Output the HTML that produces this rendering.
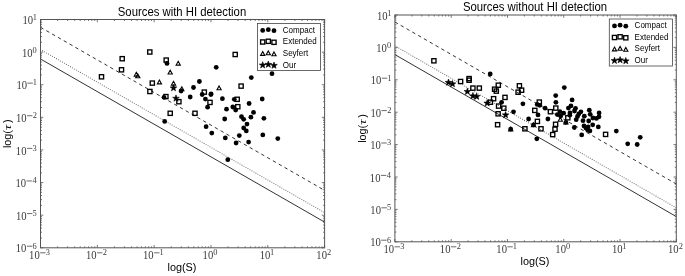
<!DOCTYPE html>
<html><head><meta charset="utf-8"><style>
html,body{margin:0;padding:0;background:#fff;width:685px;height:276px;overflow:hidden}
svg{display:block;will-change:transform}
</style></head><body>
<svg width="685" height="276" viewBox="0 0 685 276">
<style>
.tl{font-family:"Liberation Serif",serif;font-size:13px;fill:#3a3a3a}
.sup{font-family:"Liberation Serif",serif;font-size:8.4px;fill:#3a3a3a}
.lg{font-family:"Liberation Sans",sans-serif;font-size:8.5px;fill:#000}
.tt{font-family:"Liberation Sans",sans-serif;font-size:12px;fill:#000}
.al{font-family:"Liberation Sans",sans-serif;font-size:11.5px;fill:#000}
</style>
<rect width="685" height="276" fill="#fff"/>
<clipPath id="c40"><rect x="40.5" y="19.5" width="284.1" height="228.3"/></clipPath>
<g clip-path="url(#c40)" fill="none" stroke="#000">
<line x1="40.5" y1="59.0" x2="324.6" y2="222.07" stroke-width="1" stroke="#333"/>
<line x1="40.5" y1="49.5" x2="324.6" y2="212.57" stroke-width="1.1" stroke-dasharray="0 2.3" stroke-linecap="round" stroke="#666"/>
<line x1="40.5" y1="27.3" x2="324.6" y2="190.37" stroke-width="1" stroke-dasharray="3.4 3.3" stroke="#333"/>
</g>
<g fill="none" stroke="#000" stroke-width="1.35"><rect x="99.40" y="74.70" width="4.2" height="4.2"/><rect x="120.10" y="56.60" width="4.2" height="4.2"/><rect x="119.40" y="67.70" width="4.2" height="4.2"/><rect x="147.70" y="49.90" width="4.2" height="4.2"/><rect x="150.20" y="81.00" width="4.2" height="4.2"/><rect x="147.80" y="89.40" width="4.2" height="4.2"/><rect x="164.10" y="58.00" width="4.2" height="4.2"/><rect x="163.80" y="94.50" width="4.2" height="4.2"/><rect x="176.80" y="99.60" width="4.2" height="4.2"/><rect x="168.10" y="111.20" width="4.2" height="4.2"/><rect x="192.90" y="111.20" width="4.2" height="4.2"/><rect x="233.10" y="52.40" width="4.2" height="4.2"/><rect x="239.00" y="84.00" width="4.2" height="4.2"/><rect x="202.20" y="90.00" width="4.2" height="4.2"/><rect x="207.90" y="100.30" width="4.2" height="4.2"/><rect x="235.10" y="97.20" width="4.2" height="4.2"/><rect x="235.70" y="104.60" width="4.2" height="4.2"/></g>
<g fill="none" stroke="#000" stroke-width="1.1" stroke-linejoin="miter"><path d="M136.30,72.30L138.40,76.10L134.20,76.10Z"/><path d="M137.80,73.90L139.90,77.70L135.70,77.70Z"/><path d="M159.40,80.10L161.50,83.90L157.30,83.90Z"/><path d="M178.20,61.30L180.30,65.10L176.10,65.10Z"/><path d="M170.20,70.20L172.30,74.00L168.10,74.00Z"/><path d="M173.50,81.30L175.60,85.10L171.40,85.10Z"/><path d="M181.80,86.80L183.90,90.60L179.70,90.60Z"/><path d="M219.10,86.00L221.20,89.80L217.00,89.80Z"/></g>
<g fill="#000"><circle cx="167" cy="63.4" r="2.4"/><circle cx="216.2" cy="67.3" r="2.4"/><circle cx="181.1" cy="91" r="2.4"/><circle cx="193.5" cy="87.5" r="2.4"/><circle cx="199.4" cy="81.5" r="2.4"/><circle cx="202.2" cy="94.5" r="2.4"/><circle cx="210.9" cy="94.5" r="2.4"/><circle cx="205.4" cy="99.1" r="2.4"/><circle cx="164" cy="97.3" r="2.4"/><circle cx="190.2" cy="97" r="2.4"/><circle cx="164.7" cy="121.4" r="2.4"/><circle cx="222.4" cy="98.7" r="2.4"/><circle cx="207.6" cy="107.2" r="2.4"/><circle cx="226.5" cy="109.2" r="2.4"/><circle cx="224.7" cy="119" r="2.4"/><circle cx="206.1" cy="126.7" r="2.4"/><circle cx="211.8" cy="133.1" r="2.4"/><circle cx="225.3" cy="137.9" r="2.4"/><circle cx="272" cy="73.7" r="2.4"/><circle cx="251.3" cy="77.6" r="2.4"/><circle cx="211.1" cy="93.9" r="2.4"/><circle cx="234.3" cy="99.3" r="2.4"/><circle cx="262.2" cy="99" r="2.4"/><circle cx="249.1" cy="103.5" r="2.4"/><circle cx="232.8" cy="107" r="2.4"/><circle cx="235.7" cy="110" r="2.4"/><circle cx="253.5" cy="112.4" r="2.4"/><circle cx="250.9" cy="117.2" r="2.4"/><circle cx="241.5" cy="116.7" r="2.4"/><circle cx="243.7" cy="119.3" r="2.4"/><circle cx="263.9" cy="118.3" r="2.4"/><circle cx="247" cy="124.1" r="2.4"/><circle cx="243.7" cy="128" r="2.4"/><circle cx="246.3" cy="130.9" r="2.4"/><circle cx="239.3" cy="135.6" r="2.4"/><circle cx="262.8" cy="134.9" r="2.4"/><circle cx="277.8" cy="138.6" r="2.4"/><circle cx="236.1" cy="143" r="2.4"/><circle cx="248.6" cy="142.1" r="2.4"/><circle cx="227.8" cy="159.7" r="2.4"/></g>
<g fill="#000" stroke="#000" stroke-width="0.6" stroke-linejoin="round"><polygon points="173.50,84.50 174.32,86.87 176.83,86.92 174.83,88.43 175.56,90.83 173.50,89.40 171.44,90.83 172.17,88.43 170.17,86.92 172.68,86.87"/><polygon points="176.00,94.90 176.82,97.27 179.33,97.32 177.33,98.83 178.06,101.23 176.00,99.80 173.94,101.23 174.67,98.83 172.67,97.32 175.18,97.27"/></g>
<rect x="257.5" y="23.5" width="63.0" height="47.0" fill="#fff" stroke="#444" stroke-width="0.8"/>
<g fill="#000"><circle cx="262.7" cy="30.400000000000002" r="2.4"/><circle cx="268.3" cy="29.700000000000003" r="2.4"/><circle cx="274.0" cy="30.700000000000003" r="2.4"/></g>
<text transform="translate(282.8,32.7) scale(0.945,1)" class="lg">Compact</text>
<g fill="none" stroke="#000" stroke-width="1.35"><rect x="260.60" y="39.90" width="4.2" height="4.2"/><rect x="266.20" y="39.20" width="4.2" height="4.2"/><rect x="271.90" y="40.20" width="4.2" height="4.2"/></g>
<text transform="translate(282.8,44.300000000000004) scale(0.945,1)" class="lg">Extended</text>
<g fill="none" stroke="#000" stroke-width="1.1"><path d="M262.70,51.60L264.80,55.40L260.60,55.40Z"/><path d="M268.30,50.90L270.40,54.70L266.20,54.70Z"/><path d="M274.00,51.90L276.10,55.70L271.90,55.70Z"/></g>
<text transform="translate(282.8,55.9) scale(0.945,1)" class="lg">Seyfert</text>
<g fill="#000" stroke="#000" stroke-width="0.6" stroke-linejoin="round"><polygon points="262.70,61.70 263.52,64.07 266.03,64.12 264.03,65.63 264.76,68.03 262.70,66.60 260.64,68.03 261.37,65.63 259.37,64.12 261.88,64.07"/><polygon points="268.30,61.00 269.12,63.37 271.63,63.42 269.63,64.93 270.36,67.33 268.30,65.90 266.24,67.33 266.97,64.93 264.97,63.42 267.48,63.37"/><polygon points="274.00,62.00 274.82,64.37 277.33,64.42 275.33,65.93 276.06,68.33 274.00,66.90 271.94,68.33 272.67,65.93 270.67,64.42 273.18,64.37"/></g>
<text transform="translate(282.8,67.5) scale(0.945,1)" class="lg">Our</text>
<rect x="40.5" y="19.5" width="284.1" height="228.3" fill="none" stroke="#555" stroke-width="1"/>
<path d="M40.50,247.8v-2.8M40.50,19.5v2.8M57.60,247.8v-1.5M57.60,19.5v1.5M67.61,247.8v-1.5M67.61,19.5v1.5M74.71,247.8v-1.5M74.71,19.5v1.5M80.22,247.8v-1.5M80.22,19.5v1.5M84.71,247.8v-1.5M84.71,19.5v1.5M88.52,247.8v-1.5M88.52,19.5v1.5M91.81,247.8v-1.5M91.81,19.5v1.5M94.72,247.8v-1.5M94.72,19.5v1.5M97.32,247.8v-2.8M97.32,19.5v2.8M114.42,247.8v-1.5M114.42,19.5v1.5M124.43,247.8v-1.5M124.43,19.5v1.5M131.53,247.8v-1.5M131.53,19.5v1.5M137.04,247.8v-1.5M137.04,19.5v1.5M141.53,247.8v-1.5M141.53,19.5v1.5M145.34,247.8v-1.5M145.34,19.5v1.5M148.63,247.8v-1.5M148.63,19.5v1.5M151.54,247.8v-1.5M151.54,19.5v1.5M154.14,247.8v-2.8M154.14,19.5v2.8M171.24,247.8v-1.5M171.24,19.5v1.5M181.25,247.8v-1.5M181.25,19.5v1.5M188.35,247.8v-1.5M188.35,19.5v1.5M193.86,247.8v-1.5M193.86,19.5v1.5M198.35,247.8v-1.5M198.35,19.5v1.5M202.16,247.8v-1.5M202.16,19.5v1.5M205.45,247.8v-1.5M205.45,19.5v1.5M208.36,247.8v-1.5M208.36,19.5v1.5M210.96,247.8v-2.8M210.96,19.5v2.8M228.06,247.8v-1.5M228.06,19.5v1.5M238.07,247.8v-1.5M238.07,19.5v1.5M245.17,247.8v-1.5M245.17,19.5v1.5M250.68,247.8v-1.5M250.68,19.5v1.5M255.17,247.8v-1.5M255.17,19.5v1.5M258.98,247.8v-1.5M258.98,19.5v1.5M262.27,247.8v-1.5M262.27,19.5v1.5M265.18,247.8v-1.5M265.18,19.5v1.5M267.78,247.8v-2.8M267.78,19.5v2.8M284.88,247.8v-1.5M284.88,19.5v1.5M294.89,247.8v-1.5M294.89,19.5v1.5M301.99,247.8v-1.5M301.99,19.5v1.5M307.50,247.8v-1.5M307.50,19.5v1.5M311.99,247.8v-1.5M311.99,19.5v1.5M315.80,247.8v-1.5M315.80,19.5v1.5M319.09,247.8v-1.5M319.09,19.5v1.5M322.00,247.8v-1.5M322.00,19.5v1.5M324.60,247.8v-2.8M324.60,19.5v2.8M40.5,247.80h2.8M324.6,247.80h-2.8M40.5,237.98h1.5M324.6,237.98h-1.5M40.5,232.24h1.5M324.6,232.24h-1.5M40.5,228.16h1.5M324.6,228.16h-1.5M40.5,225.00h1.5M324.6,225.00h-1.5M40.5,222.42h1.5M324.6,222.42h-1.5M40.5,220.24h1.5M324.6,220.24h-1.5M40.5,218.35h1.5M324.6,218.35h-1.5M40.5,216.68h1.5M324.6,216.68h-1.5M40.5,215.19h2.8M324.6,215.19h-2.8M40.5,205.37h1.5M324.6,205.37h-1.5M40.5,199.62h1.5M324.6,199.62h-1.5M40.5,195.55h1.5M324.6,195.55h-1.5M40.5,192.39h1.5M324.6,192.39h-1.5M40.5,189.81h1.5M324.6,189.81h-1.5M40.5,187.62h1.5M324.6,187.62h-1.5M40.5,185.73h1.5M324.6,185.73h-1.5M40.5,184.06h1.5M324.6,184.06h-1.5M40.5,182.57h2.8M324.6,182.57h-2.8M40.5,172.75h1.5M324.6,172.75h-1.5M40.5,167.01h1.5M324.6,167.01h-1.5M40.5,162.94h1.5M324.6,162.94h-1.5M40.5,159.78h1.5M324.6,159.78h-1.5M40.5,157.19h1.5M324.6,157.19h-1.5M40.5,155.01h1.5M324.6,155.01h-1.5M40.5,153.12h1.5M324.6,153.12h-1.5M40.5,151.45h1.5M324.6,151.45h-1.5M40.5,149.96h2.8M324.6,149.96h-2.8M40.5,140.14h1.5M324.6,140.14h-1.5M40.5,134.40h1.5M324.6,134.40h-1.5M40.5,130.32h1.5M324.6,130.32h-1.5M40.5,127.16h1.5M324.6,127.16h-1.5M40.5,124.58h1.5M324.6,124.58h-1.5M40.5,122.39h1.5M324.6,122.39h-1.5M40.5,120.50h1.5M324.6,120.50h-1.5M40.5,118.84h1.5M324.6,118.84h-1.5M40.5,117.34h2.8M324.6,117.34h-2.8M40.5,107.52h1.5M324.6,107.52h-1.5M40.5,101.78h1.5M324.6,101.78h-1.5M40.5,97.71h1.5M324.6,97.71h-1.5M40.5,94.55h1.5M324.6,94.55h-1.5M40.5,91.96h1.5M324.6,91.96h-1.5M40.5,89.78h1.5M324.6,89.78h-1.5M40.5,87.89h1.5M324.6,87.89h-1.5M40.5,86.22h1.5M324.6,86.22h-1.5M40.5,84.73h2.8M324.6,84.73h-2.8M40.5,74.91h1.5M324.6,74.91h-1.5M40.5,69.17h1.5M324.6,69.17h-1.5M40.5,65.09h1.5M324.6,65.09h-1.5M40.5,61.93h1.5M324.6,61.93h-1.5M40.5,59.35h1.5M324.6,59.35h-1.5M40.5,57.17h1.5M324.6,57.17h-1.5M40.5,55.27h1.5M324.6,55.27h-1.5M40.5,53.61h1.5M324.6,53.61h-1.5M40.5,52.11h2.8M324.6,52.11h-2.8M40.5,42.30h1.5M324.6,42.30h-1.5M40.5,36.55h1.5M324.6,36.55h-1.5M40.5,32.48h1.5M324.6,32.48h-1.5M40.5,29.32h1.5M324.6,29.32h-1.5M40.5,26.74h1.5M324.6,26.74h-1.5M40.5,24.55h1.5M324.6,24.55h-1.5M40.5,22.66h1.5M324.6,22.66h-1.5M40.5,20.99h1.5M324.6,20.99h-1.5M40.5,19.50h2.8M324.6,19.50h-2.8" stroke="#555" stroke-width="0.8" fill="none"/>
<g transform="translate(30.06,259.00)"><text transform="translate(-0.94,0) scale(0.82,1)" class="tl">10</text><line x1="10.12" y1="-6.20" x2="15.52" y2="-6.20" stroke="#3a3a3a" stroke-width="0.75"/><text x="15.81" y="-3.90" class="sup">3</text></g>
<g transform="translate(86.93,259.00)"><text transform="translate(-0.94,0) scale(0.82,1)" class="tl">10</text><line x1="10.12" y1="-6.20" x2="15.52" y2="-6.20" stroke="#3a3a3a" stroke-width="0.75"/><text x="15.85" y="-3.90" class="sup">2</text></g>
<g transform="translate(143.95,259.00)"><text transform="translate(-0.94,0) scale(0.82,1)" class="tl">10</text><line x1="10.12" y1="-6.20" x2="15.52" y2="-6.20" stroke="#3a3a3a" stroke-width="0.75"/><text x="15.48" y="-3.90" class="sup">1</text></g>
<g transform="translate(203.52,259.00)"><text transform="translate(-0.94,0) scale(0.82,1)" class="tl">10</text><text x="9.80" y="-3.90" class="sup">0</text></g>
<g transform="translate(260.64,259.00)"><text transform="translate(-0.94,0) scale(0.82,1)" class="tl">10</text><text x="9.38" y="-3.90" class="sup">1</text></g>
<g transform="translate(317.26,259.00)"><text transform="translate(-0.94,0) scale(0.82,1)" class="tl">10</text><text x="9.75" y="-3.90" class="sup">2</text></g>
<g transform="translate(16.69,252.40)"><text transform="translate(-0.94,0) scale(0.82,1)" class="tl">10</text><line x1="10.12" y1="-6.20" x2="15.52" y2="-6.20" stroke="#3a3a3a" stroke-width="0.75"/><text x="15.86" y="-3.90" class="sup">6</text></g>
<g transform="translate(16.90,219.79)"><text transform="translate(-0.94,0) scale(0.82,1)" class="tl">10</text><line x1="10.12" y1="-6.20" x2="15.52" y2="-6.20" stroke="#3a3a3a" stroke-width="0.75"/><text x="15.73" y="-3.90" class="sup">5</text></g>
<g transform="translate(16.38,187.17)"><text transform="translate(-0.94,0) scale(0.82,1)" class="tl">10</text><line x1="10.12" y1="-6.20" x2="15.52" y2="-6.20" stroke="#3a3a3a" stroke-width="0.75"/><text x="16.05" y="-3.90" class="sup">4</text></g>
<g transform="translate(16.81,154.56)"><text transform="translate(-0.94,0) scale(0.82,1)" class="tl">10</text><line x1="10.12" y1="-6.20" x2="15.52" y2="-6.20" stroke="#3a3a3a" stroke-width="0.75"/><text x="15.81" y="-3.90" class="sup">3</text></g>
<g transform="translate(16.92,121.94)"><text transform="translate(-0.94,0) scale(0.82,1)" class="tl">10</text><line x1="10.12" y1="-6.20" x2="15.52" y2="-6.20" stroke="#3a3a3a" stroke-width="0.75"/><text x="15.85" y="-3.90" class="sup">2</text></g>
<g transform="translate(17.33,89.33)"><text transform="translate(-0.94,0) scale(0.82,1)" class="tl">10</text><line x1="10.12" y1="-6.20" x2="15.52" y2="-6.20" stroke="#3a3a3a" stroke-width="0.75"/><text x="15.48" y="-3.90" class="sup">1</text></g>
<g transform="translate(22.82,56.71)"><text transform="translate(-0.94,0) scale(0.82,1)" class="tl">10</text><text x="9.80" y="-3.90" class="sup">0</text></g>
<g transform="translate(23.43,24.10)"><text transform="translate(-0.94,0) scale(0.82,1)" class="tl">10</text><text x="9.38" y="-3.90" class="sup">1</text></g>
<text transform="translate(182,15.9) scale(0.945,1)" text-anchor="middle" class="tt">Sources with HI detection</text>
<text transform="translate(182,270.7) scale(0.945,1)" text-anchor="middle" class="al">log(S)</text>
<g transform="translate(11.20,148.12) rotate(-90)"><text transform="scale(0.945,1)" class="al">log(</text><text transform="translate(18.07,0) scale(1.35,1)" style="font-family:'Liberation Serif',serif;font-style:italic;font-size:11px;fill:#000">τ</text><text transform="translate(25.24,0) scale(0.945,1)" class="al">)</text></g>
<clipPath id="c394"><rect x="394.9" y="15.0" width="281.4" height="226.8"/></clipPath>
<g clip-path="url(#c394)" fill="none" stroke="#000">
<line x1="394.9" y1="54.6" x2="676.3" y2="216.60" stroke-width="1" stroke="#333"/>
<line x1="394.9" y1="45.8" x2="676.3" y2="207.80" stroke-width="1.1" stroke-dasharray="0 2.3" stroke-linecap="round" stroke="#666"/>
<line x1="394.9" y1="22.0" x2="676.3" y2="184.00" stroke-width="1" stroke-dasharray="3.4 3.3" stroke="#333"/>
</g>
<g fill="none" stroke="#000" stroke-width="1.35"><rect x="431.80" y="58.70" width="4.2" height="4.2"/><rect x="458.50" y="79.40" width="4.2" height="4.2"/><rect x="467.00" y="76.50" width="4.2" height="4.2"/><rect x="467.00" y="78.10" width="4.2" height="4.2"/><rect x="470.80" y="86.00" width="4.2" height="4.2"/><rect x="477.20" y="86.00" width="4.2" height="4.2"/><rect x="496.20" y="83.10" width="4.2" height="4.2"/><rect x="492.50" y="87.10" width="4.2" height="4.2"/><rect x="494.20" y="89.00" width="4.2" height="4.2"/><rect x="491.50" y="96.60" width="4.2" height="4.2"/><rect x="502.90" y="95.30" width="4.2" height="4.2"/><rect x="488.30" y="100.10" width="4.2" height="4.2"/><rect x="496.50" y="104.00" width="4.2" height="4.2"/><rect x="501.70" y="106.10" width="4.2" height="4.2"/><rect x="496.00" y="111.70" width="4.2" height="4.2"/><rect x="517.30" y="83.70" width="4.2" height="4.2"/><rect x="519.50" y="88.10" width="4.2" height="4.2"/><rect x="516.00" y="90.10" width="4.2" height="4.2"/><rect x="537.20" y="100.00" width="4.2" height="4.2"/><rect x="532.70" y="108.30" width="4.2" height="4.2"/><rect x="553.70" y="106.00" width="4.2" height="4.2"/><rect x="548.30" y="109.60" width="4.2" height="4.2"/><rect x="535.30" y="119.30" width="4.2" height="4.2"/><rect x="495.50" y="122.60" width="4.2" height="4.2"/><rect x="522.80" y="126.70" width="4.2" height="4.2"/><rect x="538.90" y="126.70" width="4.2" height="4.2"/><rect x="553.50" y="122.20" width="4.2" height="4.2"/><rect x="552.90" y="127.10" width="4.2" height="4.2"/><rect x="550.60" y="132.50" width="4.2" height="4.2"/><rect x="565.70" y="115.70" width="4.2" height="4.2"/><rect x="603.50" y="132.30" width="4.2" height="4.2"/></g>
<g fill="none" stroke="#000" stroke-width="1.1" stroke-linejoin="miter"><path d="M560.30,117.50L562.40,121.30L558.20,121.30Z"/><path d="M565.90,120.20L568.00,124.00L563.80,124.00Z"/><path d="M510.70,127.10L512.80,130.90L508.60,130.90Z"/><path d="M533.50,122.90L535.60,126.70L531.40,126.70Z"/></g>
<g fill="#000"><circle cx="490.2" cy="74" r="2.4"/><circle cx="501.6" cy="102.3" r="2.4"/><circle cx="513.5" cy="111.8" r="2.4"/><circle cx="522.9" cy="103.8" r="2.4"/><circle cx="528.6" cy="119" r="2.4"/><circle cx="510.7" cy="129.1" r="2.4"/><circle cx="533.5" cy="124.9" r="2.4"/><circle cx="537.2" cy="104.4" r="2.4"/><circle cx="539.7" cy="105.3" r="2.4"/><circle cx="545.1" cy="108.2" r="2.4"/><circle cx="538" cy="114.9" r="2.4"/><circle cx="547.9" cy="119" r="2.4"/><circle cx="536.8" cy="138.8" r="2.4"/><circle cx="555.7" cy="95.6" r="2.4"/><circle cx="555.9" cy="102.3" r="2.4"/><circle cx="564.3" cy="87.6" r="2.4"/><circle cx="572.1" cy="99.9" r="2.4"/><circle cx="570.9" cy="105.9" r="2.4"/><circle cx="568.4" cy="108.1" r="2.4"/><circle cx="575.5" cy="108.3" r="2.4"/><circle cx="574.5" cy="111" r="2.4"/><circle cx="570" cy="113" r="2.4"/><circle cx="569.8" cy="115.2" r="2.4"/><circle cx="559.9" cy="111.7" r="2.4"/><circle cx="563.6" cy="113.2" r="2.4"/><circle cx="557.3" cy="114.6" r="2.4"/><circle cx="560.7" cy="116.1" r="2.4"/><circle cx="580.9" cy="111.8" r="2.4"/><circle cx="577.5" cy="116.5" r="2.4"/><circle cx="576.2" cy="119.7" r="2.4"/><circle cx="584.3" cy="116.2" r="2.4"/><circle cx="583" cy="120.7" r="2.4"/><circle cx="589.3" cy="110.2" r="2.4"/><circle cx="590.2" cy="114.3" r="2.4"/><circle cx="592.9" cy="118" r="2.4"/><circle cx="578.8" cy="113.9" r="2.4"/><circle cx="565.9" cy="122.4" r="2.4"/><circle cx="596.4" cy="118.4" r="2.4"/><circle cx="599.1" cy="112.9" r="2.4"/><circle cx="599" cy="116.8" r="2.4"/><circle cx="588.7" cy="121" r="2.4"/><circle cx="592.7" cy="124.8" r="2.4"/><circle cx="584" cy="125.9" r="2.4"/><circle cx="585.9" cy="128.1" r="2.4"/><circle cx="588.1" cy="126.8" r="2.4"/><circle cx="587.7" cy="130" r="2.4"/><circle cx="589.9" cy="130.9" r="2.4"/><circle cx="574.3" cy="127.5" r="2.4"/><circle cx="581.7" cy="134.9" r="2.4"/><circle cx="598.3" cy="126.9" r="2.4"/><circle cx="616.3" cy="131.1" r="2.4"/><circle cx="640.2" cy="137.3" r="2.4"/><circle cx="627.7" cy="143.8" r="2.4"/><circle cx="637.2" cy="144.5" r="2.4"/></g>
<g fill="#000" stroke="#000" stroke-width="0.6" stroke-linejoin="round"><polygon points="448.50,79.00 449.32,81.37 451.83,81.42 449.83,82.93 450.56,85.33 448.50,83.90 446.44,85.33 447.17,82.93 445.17,81.42 447.68,81.37"/><polygon points="452.50,80.50 453.32,82.87 455.83,82.92 453.83,84.43 454.56,86.83 452.50,85.40 450.44,86.83 451.17,84.43 449.17,82.92 451.68,82.87"/><polygon points="467.40,88.10 468.22,90.47 470.73,90.52 468.73,92.03 469.46,94.43 467.40,93.00 465.34,94.43 466.07,92.03 464.07,90.52 466.58,90.47"/><polygon points="472.90,92.50 473.72,94.87 476.23,94.92 474.23,96.43 474.96,98.83 472.90,97.40 470.84,98.83 471.57,96.43 469.57,94.92 472.08,94.87"/><polygon points="476.70,93.10 477.52,95.47 480.03,95.52 478.03,97.03 478.76,99.43 476.70,98.00 474.64,99.43 475.37,97.03 473.37,95.52 475.88,95.47"/><polygon points="487.20,99.70 488.02,102.07 490.53,102.12 488.53,103.63 489.26,106.03 487.20,104.60 485.14,106.03 485.87,103.63 483.87,102.12 486.38,102.07"/><polygon points="505.60,111.50 506.42,113.87 508.93,113.92 506.93,115.43 507.66,117.83 505.60,116.40 503.54,117.83 504.27,115.43 502.27,113.92 504.78,113.87"/></g>
<rect x="609.3" y="19.0" width="63.30000000000007" height="47.0" fill="#fff" stroke="#444" stroke-width="0.8"/>
<g fill="#000"><circle cx="614.5" cy="25.900000000000002" r="2.4"/><circle cx="620.0999999999999" cy="25.200000000000003" r="2.4"/><circle cx="625.8" cy="26.200000000000003" r="2.4"/></g>
<text transform="translate(634.5999999999999,28.200000000000003) scale(0.945,1)" class="lg">Compact</text>
<g fill="none" stroke="#000" stroke-width="1.35"><rect x="612.40" y="35.40" width="4.2" height="4.2"/><rect x="618.00" y="34.70" width="4.2" height="4.2"/><rect x="623.70" y="35.70" width="4.2" height="4.2"/></g>
<text transform="translate(634.5999999999999,39.800000000000004) scale(0.945,1)" class="lg">Extended</text>
<g fill="none" stroke="#000" stroke-width="1.1"><path d="M614.50,47.10L616.60,50.90L612.40,50.90Z"/><path d="M620.10,46.40L622.20,50.20L618.00,50.20Z"/><path d="M625.80,47.40L627.90,51.20L623.70,51.20Z"/></g>
<text transform="translate(634.5999999999999,51.4) scale(0.945,1)" class="lg">Seyfert</text>
<g fill="#000" stroke="#000" stroke-width="0.6" stroke-linejoin="round"><polygon points="614.50,57.20 615.32,59.57 617.83,59.62 615.83,61.13 616.56,63.53 614.50,62.10 612.44,63.53 613.17,61.13 611.17,59.62 613.68,59.57"/><polygon points="620.10,56.50 620.92,58.87 623.43,58.92 621.43,60.43 622.16,62.83 620.10,61.40 618.04,62.83 618.77,60.43 616.77,58.92 619.28,58.87"/><polygon points="625.80,57.50 626.62,59.87 629.13,59.92 627.13,61.43 627.86,63.83 625.80,62.40 623.74,63.83 624.47,61.43 622.47,59.92 624.98,59.87"/></g>
<text transform="translate(634.5999999999999,63.0) scale(0.945,1)" class="lg">Our</text>
<rect x="394.9" y="15.0" width="281.4" height="226.8" fill="none" stroke="#555" stroke-width="1"/>
<path d="M394.90,241.8v-2.8M394.90,15.0v2.8M411.84,241.8v-1.5M411.84,15.0v1.5M421.75,241.8v-1.5M421.75,15.0v1.5M428.78,241.8v-1.5M428.78,15.0v1.5M434.24,241.8v-1.5M434.24,15.0v1.5M438.69,241.8v-1.5M438.69,15.0v1.5M442.46,241.8v-1.5M442.46,15.0v1.5M445.73,241.8v-1.5M445.73,15.0v1.5M448.60,241.8v-1.5M448.60,15.0v1.5M451.18,241.8v-2.8M451.18,15.0v2.8M468.12,241.8v-1.5M468.12,15.0v1.5M478.03,241.8v-1.5M478.03,15.0v1.5M485.06,241.8v-1.5M485.06,15.0v1.5M490.52,241.8v-1.5M490.52,15.0v1.5M494.97,241.8v-1.5M494.97,15.0v1.5M498.74,241.8v-1.5M498.74,15.0v1.5M502.01,241.8v-1.5M502.01,15.0v1.5M504.88,241.8v-1.5M504.88,15.0v1.5M507.46,241.8v-2.8M507.46,15.0v2.8M524.40,241.8v-1.5M524.40,15.0v1.5M534.31,241.8v-1.5M534.31,15.0v1.5M541.34,241.8v-1.5M541.34,15.0v1.5M546.80,241.8v-1.5M546.80,15.0v1.5M551.25,241.8v-1.5M551.25,15.0v1.5M555.02,241.8v-1.5M555.02,15.0v1.5M558.29,241.8v-1.5M558.29,15.0v1.5M561.16,241.8v-1.5M561.16,15.0v1.5M563.74,241.8v-2.8M563.74,15.0v2.8M580.68,241.8v-1.5M580.68,15.0v1.5M590.59,241.8v-1.5M590.59,15.0v1.5M597.62,241.8v-1.5M597.62,15.0v1.5M603.08,241.8v-1.5M603.08,15.0v1.5M607.53,241.8v-1.5M607.53,15.0v1.5M611.30,241.8v-1.5M611.30,15.0v1.5M614.57,241.8v-1.5M614.57,15.0v1.5M617.44,241.8v-1.5M617.44,15.0v1.5M620.02,241.8v-2.8M620.02,15.0v2.8M636.96,241.8v-1.5M636.96,15.0v1.5M646.87,241.8v-1.5M646.87,15.0v1.5M653.90,241.8v-1.5M653.90,15.0v1.5M659.36,241.8v-1.5M659.36,15.0v1.5M663.81,241.8v-1.5M663.81,15.0v1.5M667.58,241.8v-1.5M667.58,15.0v1.5M670.85,241.8v-1.5M670.85,15.0v1.5M673.72,241.8v-1.5M673.72,15.0v1.5M676.30,241.8v-2.8M676.30,15.0v2.8M394.9,241.80h2.8M676.3,241.80h-2.8M394.9,232.05h1.5M676.3,232.05h-1.5M394.9,226.34h1.5M676.3,226.34h-1.5M394.9,222.29h1.5M676.3,222.29h-1.5M394.9,219.15h1.5M676.3,219.15h-1.5M394.9,216.59h1.5M676.3,216.59h-1.5M394.9,214.42h1.5M676.3,214.42h-1.5M394.9,212.54h1.5M676.3,212.54h-1.5M394.9,210.88h1.5M676.3,210.88h-1.5M394.9,209.40h2.8M676.3,209.40h-2.8M394.9,199.65h1.5M676.3,199.65h-1.5M394.9,193.94h1.5M676.3,193.94h-1.5M394.9,189.89h1.5M676.3,189.89h-1.5M394.9,186.75h1.5M676.3,186.75h-1.5M394.9,184.19h1.5M676.3,184.19h-1.5M394.9,182.02h1.5M676.3,182.02h-1.5M394.9,180.14h1.5M676.3,180.14h-1.5M394.9,178.48h1.5M676.3,178.48h-1.5M394.9,177.00h2.8M676.3,177.00h-2.8M394.9,167.25h1.5M676.3,167.25h-1.5M394.9,161.54h1.5M676.3,161.54h-1.5M394.9,157.49h1.5M676.3,157.49h-1.5M394.9,154.35h1.5M676.3,154.35h-1.5M394.9,151.79h1.5M676.3,151.79h-1.5M394.9,149.62h1.5M676.3,149.62h-1.5M394.9,147.74h1.5M676.3,147.74h-1.5M394.9,146.08h1.5M676.3,146.08h-1.5M394.9,144.60h2.8M676.3,144.60h-2.8M394.9,134.85h1.5M676.3,134.85h-1.5M394.9,129.14h1.5M676.3,129.14h-1.5M394.9,125.09h1.5M676.3,125.09h-1.5M394.9,121.95h1.5M676.3,121.95h-1.5M394.9,119.39h1.5M676.3,119.39h-1.5M394.9,117.22h1.5M676.3,117.22h-1.5M394.9,115.34h1.5M676.3,115.34h-1.5M394.9,113.68h1.5M676.3,113.68h-1.5M394.9,112.20h2.8M676.3,112.20h-2.8M394.9,102.45h1.5M676.3,102.45h-1.5M394.9,96.74h1.5M676.3,96.74h-1.5M394.9,92.69h1.5M676.3,92.69h-1.5M394.9,89.55h1.5M676.3,89.55h-1.5M394.9,86.99h1.5M676.3,86.99h-1.5M394.9,84.82h1.5M676.3,84.82h-1.5M394.9,82.94h1.5M676.3,82.94h-1.5M394.9,81.28h1.5M676.3,81.28h-1.5M394.9,79.80h2.8M676.3,79.80h-2.8M394.9,70.05h1.5M676.3,70.05h-1.5M394.9,64.34h1.5M676.3,64.34h-1.5M394.9,60.29h1.5M676.3,60.29h-1.5M394.9,57.15h1.5M676.3,57.15h-1.5M394.9,54.59h1.5M676.3,54.59h-1.5M394.9,52.42h1.5M676.3,52.42h-1.5M394.9,50.54h1.5M676.3,50.54h-1.5M394.9,48.88h1.5M676.3,48.88h-1.5M394.9,47.40h2.8M676.3,47.40h-2.8M394.9,37.65h1.5M676.3,37.65h-1.5M394.9,31.94h1.5M676.3,31.94h-1.5M394.9,27.89h1.5M676.3,27.89h-1.5M394.9,24.75h1.5M676.3,24.75h-1.5M394.9,22.19h1.5M676.3,22.19h-1.5M394.9,20.02h1.5M676.3,20.02h-1.5M394.9,18.14h1.5M676.3,18.14h-1.5M394.9,16.48h1.5M676.3,16.48h-1.5M394.9,15.00h2.8M676.3,15.00h-2.8" stroke="#555" stroke-width="0.8" fill="none"/>
<g transform="translate(384.46,253.00)"><text transform="translate(-0.94,0) scale(0.82,1)" class="tl">10</text><line x1="10.12" y1="-6.20" x2="15.52" y2="-6.20" stroke="#3a3a3a" stroke-width="0.75"/><text x="15.81" y="-3.90" class="sup">3</text></g>
<g transform="translate(440.79,253.00)"><text transform="translate(-0.94,0) scale(0.82,1)" class="tl">10</text><line x1="10.12" y1="-6.20" x2="15.52" y2="-6.20" stroke="#3a3a3a" stroke-width="0.75"/><text x="15.85" y="-3.90" class="sup">2</text></g>
<g transform="translate(497.27,253.00)"><text transform="translate(-0.94,0) scale(0.82,1)" class="tl">10</text><line x1="10.12" y1="-6.20" x2="15.52" y2="-6.20" stroke="#3a3a3a" stroke-width="0.75"/><text x="15.48" y="-3.90" class="sup">1</text></g>
<g transform="translate(556.30,253.00)"><text transform="translate(-0.94,0) scale(0.82,1)" class="tl">10</text><text x="9.80" y="-3.90" class="sup">0</text></g>
<g transform="translate(612.88,253.00)"><text transform="translate(-0.94,0) scale(0.82,1)" class="tl">10</text><text x="9.38" y="-3.90" class="sup">1</text></g>
<g transform="translate(668.96,253.00)"><text transform="translate(-0.94,0) scale(0.82,1)" class="tl">10</text><text x="9.75" y="-3.90" class="sup">2</text></g>
<g transform="translate(371.09,246.40)"><text transform="translate(-0.94,0) scale(0.82,1)" class="tl">10</text><line x1="10.12" y1="-6.20" x2="15.52" y2="-6.20" stroke="#3a3a3a" stroke-width="0.75"/><text x="15.86" y="-3.90" class="sup">6</text></g>
<g transform="translate(371.30,214.00)"><text transform="translate(-0.94,0) scale(0.82,1)" class="tl">10</text><line x1="10.12" y1="-6.20" x2="15.52" y2="-6.20" stroke="#3a3a3a" stroke-width="0.75"/><text x="15.73" y="-3.90" class="sup">5</text></g>
<g transform="translate(370.78,181.60)"><text transform="translate(-0.94,0) scale(0.82,1)" class="tl">10</text><line x1="10.12" y1="-6.20" x2="15.52" y2="-6.20" stroke="#3a3a3a" stroke-width="0.75"/><text x="16.05" y="-3.90" class="sup">4</text></g>
<g transform="translate(371.21,149.20)"><text transform="translate(-0.94,0) scale(0.82,1)" class="tl">10</text><line x1="10.12" y1="-6.20" x2="15.52" y2="-6.20" stroke="#3a3a3a" stroke-width="0.75"/><text x="15.81" y="-3.90" class="sup">3</text></g>
<g transform="translate(371.32,116.80)"><text transform="translate(-0.94,0) scale(0.82,1)" class="tl">10</text><line x1="10.12" y1="-6.20" x2="15.52" y2="-6.20" stroke="#3a3a3a" stroke-width="0.75"/><text x="15.85" y="-3.90" class="sup">2</text></g>
<g transform="translate(371.73,84.40)"><text transform="translate(-0.94,0) scale(0.82,1)" class="tl">10</text><line x1="10.12" y1="-6.20" x2="15.52" y2="-6.20" stroke="#3a3a3a" stroke-width="0.75"/><text x="15.48" y="-3.90" class="sup">1</text></g>
<g transform="translate(377.22,52.00)"><text transform="translate(-0.94,0) scale(0.82,1)" class="tl">10</text><text x="9.80" y="-3.90" class="sup">0</text></g>
<g transform="translate(377.83,19.60)"><text transform="translate(-0.94,0) scale(0.82,1)" class="tl">10</text><text x="9.38" y="-3.90" class="sup">1</text></g>
<text transform="translate(535,11.4) scale(0.945,1)" text-anchor="middle" class="tt">Sources without HI detection</text>
<text transform="translate(535,264.7) scale(0.945,1)" text-anchor="middle" class="al">log(S)</text>
<g transform="translate(365.60,142.87) rotate(-90)"><text transform="scale(0.945,1)" class="al">log(</text><text transform="translate(18.07,0) scale(1.35,1)" style="font-family:'Liberation Serif',serif;font-style:italic;font-size:11px;fill:#000">τ</text><text transform="translate(25.24,0) scale(0.945,1)" class="al">)</text></g>
</svg>
</body></html>
